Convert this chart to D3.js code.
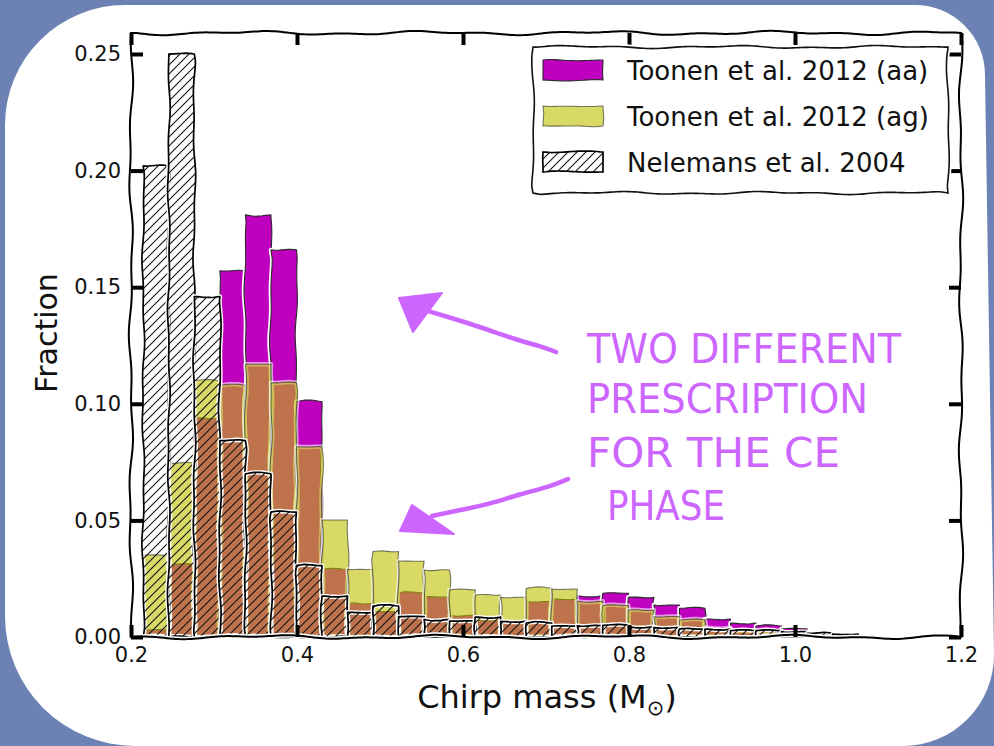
<!DOCTYPE html>
<html>
<head>
<meta charset="utf-8">
<script src="https://cdn.jsdelivr.net/npm/d3@7"></script>
<style>
  html, body { margin: 0; padding: 0; background: #6c82b4; }
  svg { display: block; }
</style>
</head>
<body>
<svg id="chart" width="994" height="746"></svg>
<script>
// Chirp-mass distributions of double white dwarfs for three population models

// histogram bins (chirp mass, solar masses)
const binStart = 0.2148;
const binWidth = 0.03076;

// fraction of systems per bin
const toonenAA = [0.003, 0.031, 0.094, 0.157, 0.181, 0.166, 0.101, 0.029, 0.0145, 0.011,
                  0.019, 0.0173, 0.0094, 0.007, 0.006, 0.0151, 0.0162, 0.0177, 0.0187, 0.017,
                  0.0137, 0.0123, 0.0077, 0.006, 0.0047, 0.0035, 0.0012, 0.0008, 0, 0, 0];
const toonenAG = [0.035, 0.0745, 0.110, 0.108, 0.117, 0.109, 0.0816, 0.0502, 0.029, 0.0366,
                  0.0326, 0.0287, 0.0202, 0.018, 0.017, 0.0209, 0.0206, 0.0153, 0.0135, 0.0116,
                  0.0087, 0.0073, 0.004, 0.003, 0.002, 0.0015, 0.0008, 0.0005, 0, 0, 0];
const nelemans = [0.202, 0.250, 0.146, 0.0842, 0.070, 0.0536, 0.0306, 0.0175, 0.0106, 0.0133,
                  0.0087, 0.0075, 0.0068, 0.0085, 0.0067, 0.006, 0.0047, 0.0048, 0.005, 0.0044,
                  0.004, 0.0034, 0.0034, 0.0027, 0.0027, 0.0023, 0.0016, 0.0012, 0, 0, 0];

const xTicks = [0.2, 0.4, 0.6, 0.8, 1.0, 1.2];
const yTicks = [0.00, 0.05, 0.10, 0.15, 0.20, 0.25];
const seriesNames = ["Toonen et al. 2012 (aa)", "Toonen et al. 2012 (ag)", "Nelemans et al. 2004"];
const noteLines = ["TWO DIFFERENT", "PRESCRIPTION", "FOR THE CE", "PHASE"];

const W = 994, H = 746;
const svg = d3.select("#chart");

// slide background: blue frame with a white rounded card
svg.append("rect").attr("width", W).attr("height", H).attr("fill", "#6c82b4");
svg.append("path")
  .attr("d", "M125,5 L915,5 A70,70 0 0 1 985,75 L994,655 A91,91 0 0 1 903,746 L135,746 A130,130 0 0 1 5,616 L5,125 A120,120 0 0 1 125,5 Z")
  .attr("fill", "#ffffff");

const defs = svg.append("defs");
const pat = defs.append("pattern").attr("id", "hatch")
  .attr("patternUnits", "userSpaceOnUse").attr("width", 9).attr("height", 9);
pat.append("path").attr("d", "M-2,2 L2,-2 M0,9 L9,0 M7,11 L11,7")
  .attr("stroke", "#111").attr("stroke-width", 1.1);

// hand-drawn line: resample a polyline and push it off its normal by a smooth wave
function sketchPath(pts, closed, amp, seed, freq = 1) {
  const P = closed ? pts.concat([pts[0]]) : pts.slice();
  const out = [];
  let s = seed * 37;
  for (let i = 0; i < P.length - 1; i++) {
    const [x0, y0] = P[i], [x1, y1] = P[i + 1];
    const L = Math.hypot(x1 - x0, y1 - y0);
    if (L === 0) continue;
    const n = Math.max(1, Math.ceil(L / 3));
    const nx = -(y1 - y0) / L, ny = (x1 - x0) / L;
    const ramp = Math.min(8, L / 2);
    for (let j = 0; j < n; j++) {
      const t = j / n, d = t * L;
      const env = Math.min(1, d / ramp, (L - d) / ramp);
      const o = amp * env * (0.6 * Math.sin((s + d) * 0.045 * freq) + 0.4 * Math.sin((s + d) * 0.11 * freq + 1.3));
      out.push([x0 + (x1 - x0) * t + nx * o, y0 + (y1 - y0) * t + ny * o]);
    }
    s += L;
  }
  if (!closed) out.push(P[P.length - 1]);
  return "M" + out.map(p => p[0].toFixed(2) + "," + p[1].toFixed(2)).join("L") + (closed ? "Z" : "");
}

const x = d3.scaleLinear().domain([0.2, 1.2]).range([131, 961]);
const y = d3.scaleLinear().domain([0, 0.259]).range([637, 33]);

const plot = svg.append("g");

function drawBars(values, style, seedBase) {
  const data = values.map((v, i) => ({ v, i })).filter(d => d.v > 0);
  plot.append("g").selectAll("g").data(data).join("g").each(function (d) {
    const x0 = x(binStart + d.i * binWidth), x1 = x(binStart + (d.i + 1) * binWidth);
    const y0 = y(0), y1 = y(d.v);
    const p = sketchPath([[x0, y0], [x0, y1], [x1, y1], [x1, y0]], true, 1.4, seedBase + d.i * 1.37);
    const g = d3.select(this);
    g.append("path").attr("d", p).attr("fill", "none")
      .attr("stroke", "#fff").attr("stroke-opacity", style.haloOpacity)
      .attr("stroke-width", 4.5).attr("stroke-linejoin", "round");
    g.append("path").attr("d", p).attr("fill", style.fill).attr("fill-opacity", style.fillOpacity)
      .attr("stroke", style.edge).attr("stroke-opacity", style.edgeOpacity)
      .attr("stroke-width", style.edgeWidth).attr("stroke-linejoin", "round");
  });
}

const styles = [
  { fill: "#bf00bf", fillOpacity: 1, edge: "#2a2a2a", edgeOpacity: 1, edgeWidth: 1.1, haloOpacity: 1 },
  { fill: "#bfbf00", fillOpacity: 0.6, edge: "#000", edgeOpacity: 0.5, edgeWidth: 1.1, haloOpacity: 0.6 },
  { fill: "url(#hatch)", fillOpacity: 1, edge: "#000", edgeOpacity: 1, edgeWidth: 1.7, haloOpacity: 1 }
];

drawBars(toonenAA, styles[0], 3);
drawBars(toonenAG, styles[1], 11);
drawBars(nelemans, styles[2], 23);

// frame of the axes
const frame = sketchPath([[131, 33], [961, 33], [961, 637], [131, 637]], true, 2.2, 5, 0.8);
plot.append("path").attr("d", frame).attr("fill", "none").attr("stroke", "#fff").attr("stroke-width", 5);
plot.append("path").attr("d", frame).attr("fill", "none").attr("stroke", "#000").attr("stroke-width", 2);

const tickFont = "'DejaVu Sans', sans-serif";

function styleAxis(g) {
  g.select(".domain").remove();
  g.selectAll(".tick line").attr("stroke", "#000").attr("stroke-width", 4);
  g.selectAll(".tick text").attr("font-family", tickFont).attr("font-size", 21).attr("fill", "#111");
}

svg.append("g").attr("transform", "translate(0,637)")
  .call(d3.axisBottom(x).tickValues(xTicks).tickFormat(d3.format(".1f"))
    .tickSizeInner(-12).tickSizeOuter(0).tickPadding(10))
  .call(styleAxis);
svg.append("g").attr("transform", "translate(0,33)")
  .call(d3.axisTop(x).tickValues(xTicks).tickFormat("").tickSizeInner(-12).tickSizeOuter(0))
  .call(styleAxis);
svg.append("g").attr("transform", "translate(131,0)")
  .call(d3.axisLeft(y).tickValues(yTicks).tickFormat(d3.format(".2f"))
    .tickSizeInner(-12).tickSizeOuter(0).tickPadding(10))
  .call(styleAxis);
svg.append("g").attr("transform", "translate(961,0)")
  .call(d3.axisRight(y).tickValues(yTicks).tickFormat("").tickSizeInner(-12).tickSizeOuter(0))
  .call(styleAxis);

// axis titles
const xTitle = svg.append("text").attr("x", 547).attr("y", 708).attr("text-anchor", "middle")
  .attr("font-family", tickFont).attr("font-size", 32).attr("fill", "#111");
xTitle.append("tspan").text("Chirp mass (M");
xTitle.append("tspan").attr("font-size", 21).attr("dy", 7).text("⊙");
xTitle.append("tspan").attr("dy", -7).text(")");

svg.append("text").attr("transform", "translate(57,333) rotate(-90)").attr("text-anchor", "middle")
  .attr("font-family", tickFont).attr("font-size", 30).attr("fill", "#111").text("Fraction");

// legend
const legend = svg.append("g");
const lbox = sketchPath([[533, 47], [948, 47], [948, 193], [533, 193]], true, 1.6, 2, 0.9);
legend.append("path").attr("d", lbox).attr("fill", "#fff").attr("stroke", "#fff").attr("stroke-width", 5);
legend.append("path").attr("d", lbox).attr("fill", "none").attr("stroke", "#111").attr("stroke-width", 1.6);
const rowY = [60, 106, 152];
seriesNames.forEach((name, i) => {
  const st = styles[i];
  const p = sketchPath([[543, rowY[i]], [603, rowY[i]], [603, rowY[i] + 20], [543, rowY[i] + 20]], true, 1, 7 + i);
  legend.append("path").attr("d", p).attr("fill", "none").attr("stroke", "#fff")
    .attr("stroke-opacity", st.haloOpacity).attr("stroke-width", 4);
  legend.append("path").attr("d", p).attr("fill", st.fill).attr("fill-opacity", st.fillOpacity)
    .attr("stroke", st.edge).attr("stroke-opacity", st.edgeOpacity).attr("stroke-width", st.edgeWidth);
  legend.append("text").attr("x", 627).attr("y", rowY[i] + 20)
    .attr("font-family", tickFont).attr("font-size", 26).attr("fill", "#111").text(name);
});

// annotation in violet handwriting with two arrows
const noteColor = "#cc66ff";
const noteFont = "'DejaVu Sans Condensed', 'DejaVu Sans', sans-serif";
const notePos = [[587, 363, 314], [587, 413, 281], [587, 467, 253], [607, 520, 118]];
noteLines.forEach((t, i) => {
  svg.append("text").attr("x", notePos[i][0]).attr("y", notePos[i][1])
    .attr("font-family", noteFont).attr("font-stretch", "condensed").attr("font-size", 41)
    .attr("fill", noteColor)
    .attr("textLength", notePos[i][2]).attr("lengthAdjust", "spacingAndGlyphs").text(t);
});

const shaft = d3.line().curve(d3.curveBasis);
const arrows = [
  { line: [[556, 352], [540, 346], [520, 341], [480, 327], [455, 319], [428, 311]],
    head: [[399, 298], [442, 293], [413, 332]] },
  { line: [[568, 479], [549, 487], [520, 494], [490, 504], [460, 510], [432, 516]],
    head: [[412, 505], [400, 531], [454, 534]] }
];
arrows.forEach(a => {
  svg.append("path").attr("d", shaft(a.line)).attr("fill", "none")
    .attr("stroke", noteColor).attr("stroke-width", 4.5).attr("stroke-linecap", "round");
  svg.append("path").attr("d", "M" + a.head.join("L") + "Z").attr("fill", noteColor)
    .attr("stroke", noteColor).attr("stroke-width", 2).attr("stroke-linejoin", "round");
});
</script>
</body>
</html>
